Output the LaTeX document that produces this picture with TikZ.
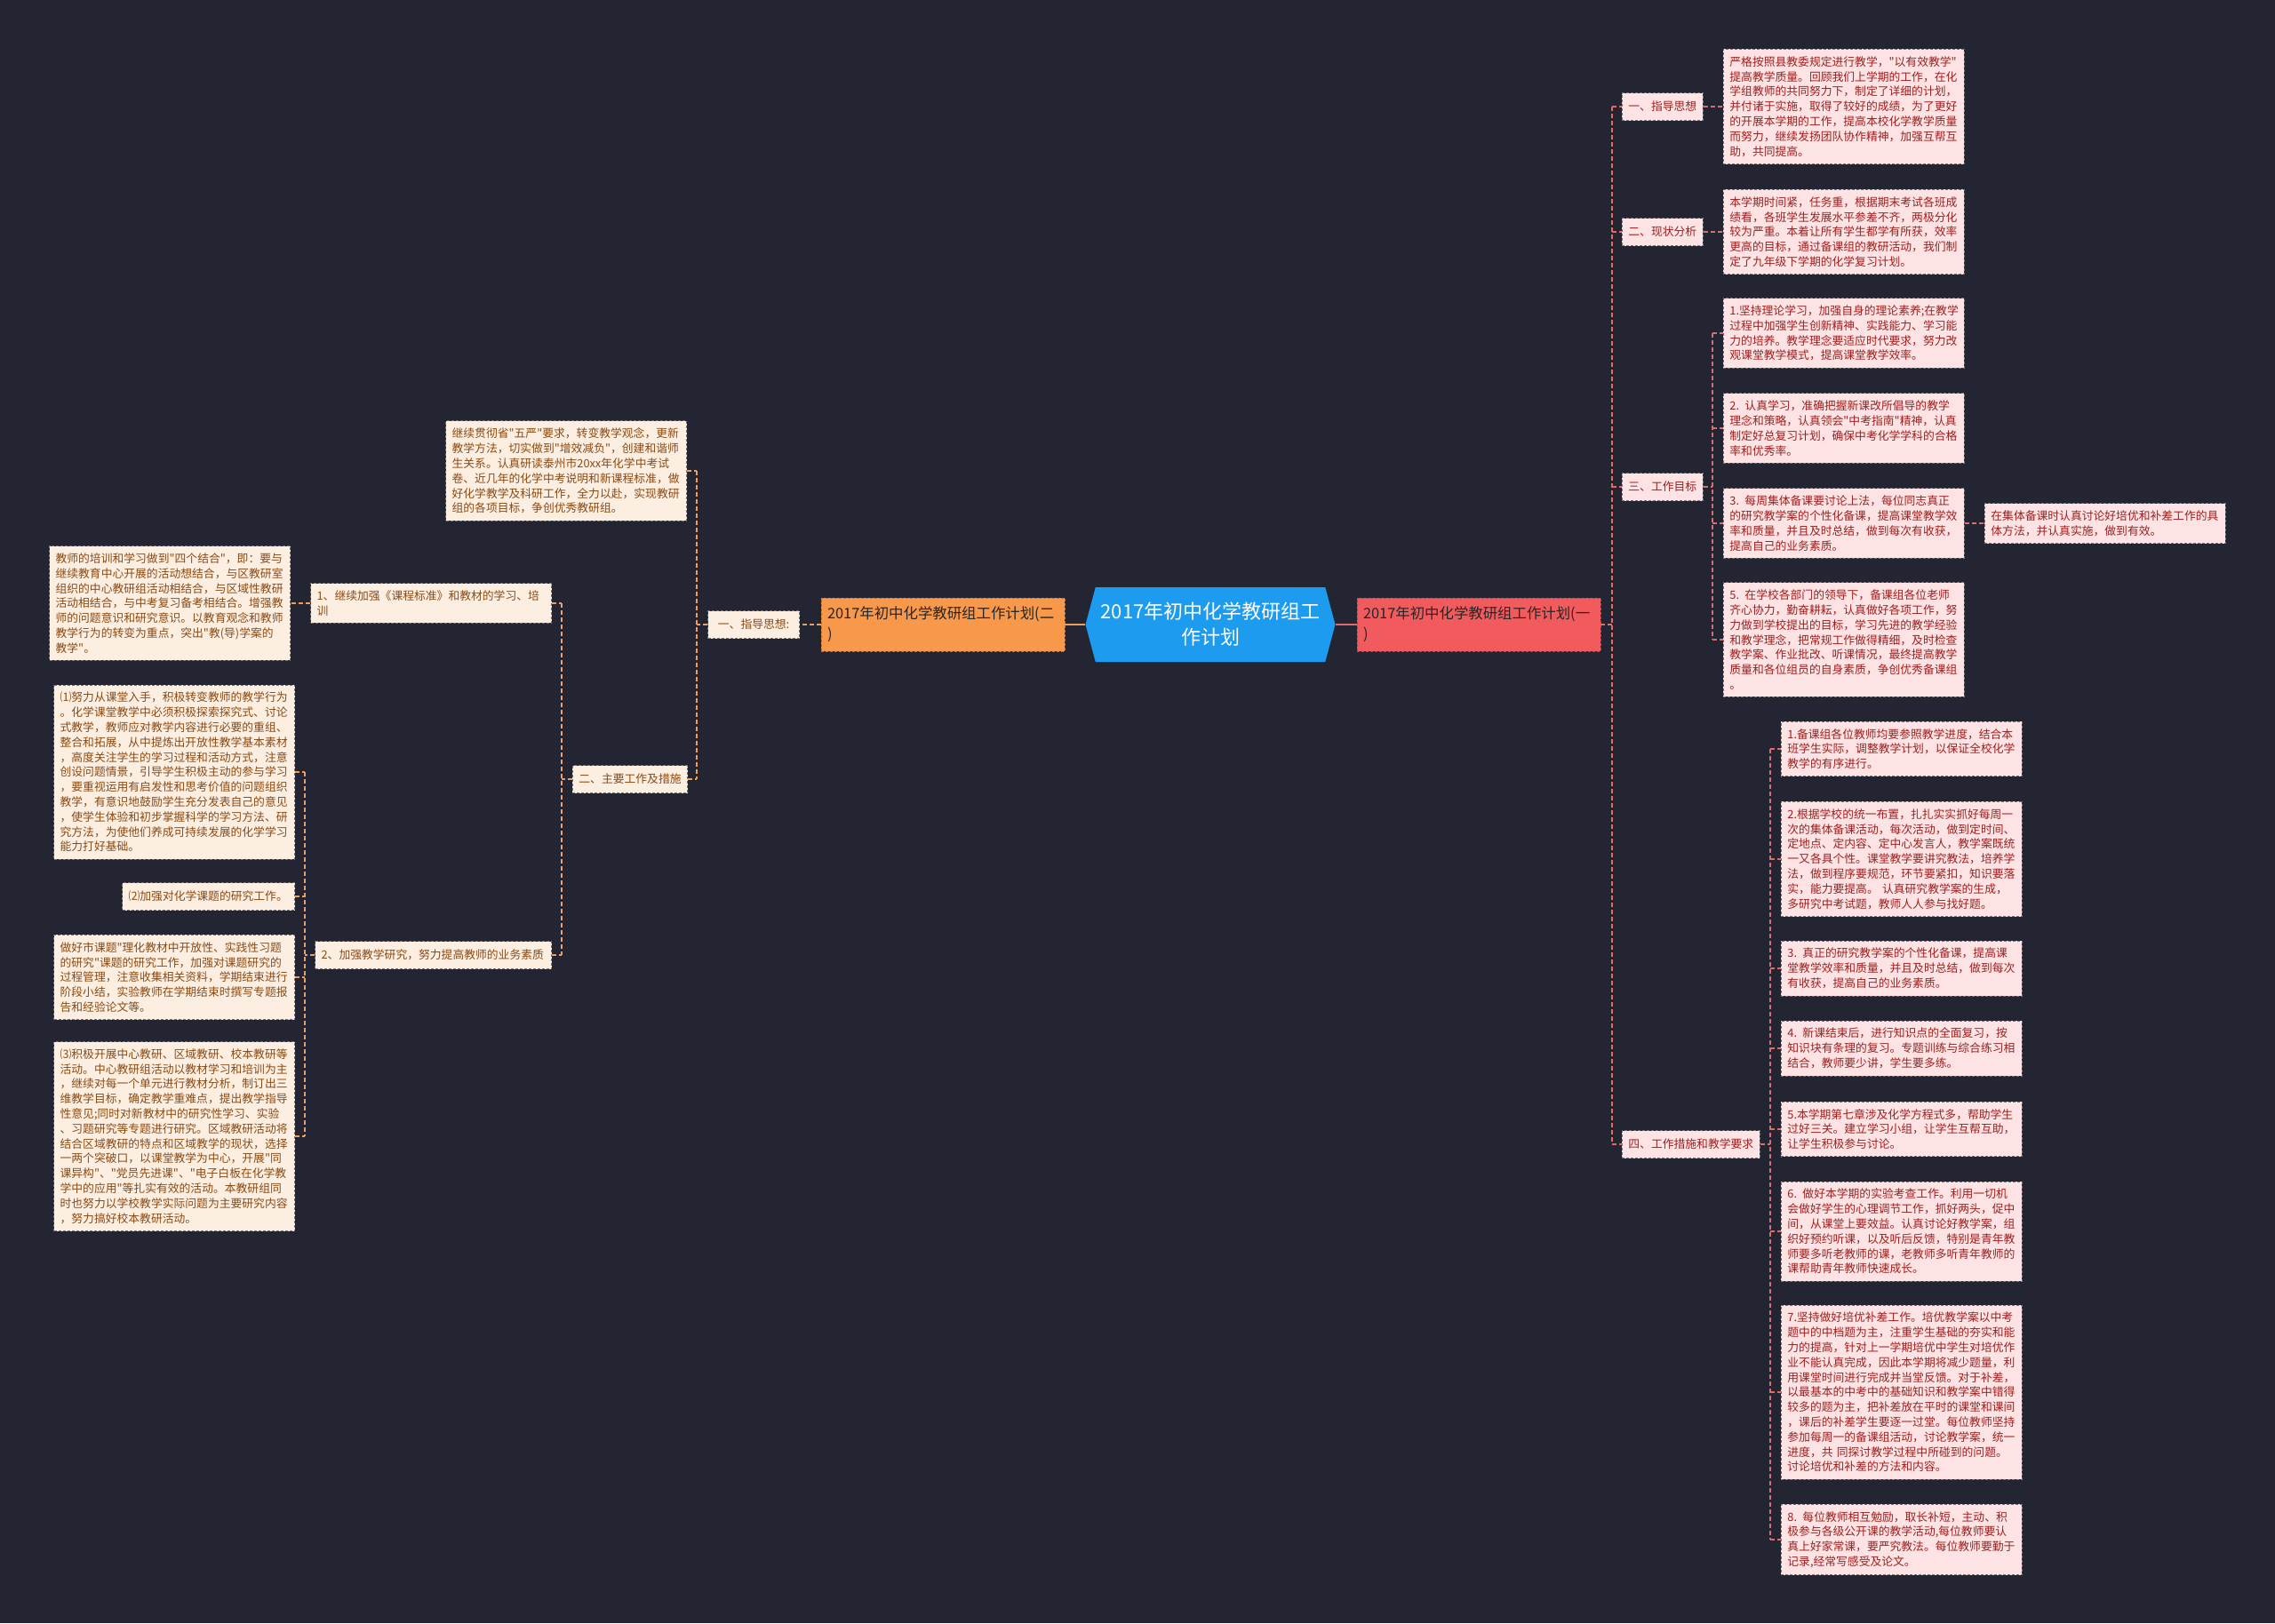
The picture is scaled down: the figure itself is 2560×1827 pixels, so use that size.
\documentclass[tikz,border=0pt]{standalone}
\usepackage{fontspec}
\setmainfont{Noto Sans CJK SC}
\newfontfamily\cjk{Noto Sans CJK SC}
\usepackage{xcolor}
\usetikzlibrary{shapes.symbols,positioning}

\definecolor{bgnavy}{HTML}{232632}
\definecolor{rootblue}{HTML}{1C9BEF}
\definecolor{mainred}{HTML}{F25B5E}
\definecolor{mainorange}{HTML}{F7984A}
\definecolor{pinkfill}{HTML}{FDE3E3}
\definecolor{pinktext}{HTML}{9E1F1F}
\definecolor{pinkline}{HTML}{E36A6A}
\definecolor{peachfill}{HTML}{FDEEE2}
\definecolor{peachtext}{HTML}{8A4A12}
\definecolor{peachline}{HTML}{EE9E5E}

\begin{document}
\begin{tikzpicture}[
    x=0.5pt, y=-0.5pt,
    root/.style={signal, signal to=west and east, signal pointer angle=150, fill=rootblue, text=white, align=center, minimum width=140.5pt, minimum height=42pt, inner sep=0pt, font=\cjk\fontsize{11}{14.5}\selectfont},
    mainbox/.style={rectangle, draw=#1!75!black, dash pattern=on 1.5pt off 1pt, fill=#1, text=black!85, text width=130pt, align=left, minimum height=30pt, inner xsep=3.5pt, font=\cjk\fontsize{8.2}{11.5}\selectfont},
    rtopic/.style={rectangle, draw=black!55, dash pattern=on 1.5pt off 1pt, fill=pinkfill, text=pinktext, minimum height=15.5pt, inner xsep=3.5pt, font=\cjk\fontsize{6.4}{8.4}\selectfont},
    rleaf/.style={rtopic, text width=#1, align=left, inner ysep=4pt},
    rleaf/.default=128.5pt,
    ltopic/.style={rtopic, fill=peachfill, text=peachtext},
    lleaf/.style={ltopic, text width=#1, align=left, inner ysep=4pt},
    lleaf/.default=128.5pt,
    rlink/.style={draw=pinkline, line width=0.6pt, dash pattern=on 2.5pt off 1.5pt},
    llink/.style={draw=peachline, line width=0.6pt, dash pattern=on 2.5pt off 1.5pt},
    trunk/.style={line width=1pt}
]

\useasboundingbox[fill=bgnavy] (0,0) rectangle (2560,1827);

% 中心主题
\node[root] (root) at (1362,703) {2017年初中化学教研组工\\作计划};

% 一级分支
\node[mainbox=mainred] (plan1) at (1664,703) {2017年初中化学教研组工作计划(一\\)};
\node[mainbox=mainorange] (plan2) at (1061,703) {2017年初中化学教研组工作计划(二\\)};

% 竖线位置
\coordinate (rspine) at (1814,0);
\coordinate (gspine) at (1927,0);
\coordinate (mspine) at (1992,0);
\coordinate (lspine) at (784,0);
\coordinate (wspine) at (632,0);
\coordinate (yspine) at (343,0);

% 右侧：计划(一)
\node[rtopic, anchor=west] (guide) at (1825,120) {一、指导思想};
\node[rtopic, anchor=west] (status) at (1825,261) {二、现状分析};
\node[rtopic, anchor=west] (goals) at (1825,548) {三、工作目标};
\node[rtopic, anchor=west] (steps) at (1825,1288) {四、工作措施和教学要求};

\node[rleaf, anchor=west] (guidetxt) at (1939,120) {严格按照县教委规定进行教学，"以有效教学"\\提高教学质量。回顾我们上学期的工作，在化\\学组教师的共同努力下，制定了详细的计划，\\并付诸于实施，取得了较好的成绩，为了更好\\的开展本学期的工作，提高本校化学教学质量\\而努力，继续发扬团队协作精神，加强互帮互\\助，共同提高。};
\node[rleaf, anchor=west] (statustxt) at (1939,261) {本学期时间紧，任务重，根据期末考试各班成\\绩看，各班学生发展水平参差不齐，两极分化\\较为严重。本着让所有学生都学有所获，效率\\更高的目标，通过备课组的教研活动，我们制\\定了九年级下学期的化学复习计划。};

\node[rleaf, anchor=west] (goal1) at (1939,375) {1.坚持理论学习，加强自身的理论素养;在教学\\过程中加强学生创新精神、实践能力、学习能\\力的培养。教学理念要适应时代要求，努力改\\观课堂教学模式，提高课堂教学效率。};
\node[rleaf, anchor=west] (goal2) at (1939,482) {2. 认真学习，准确把握新课改所倡导的教学\\理念和策略，认真领会"中考指南"精神，认真\\制定好总复习计划，确保中考化学学科的合格\\率和优秀率。};
\node[rleaf, anchor=west] (goal3) at (1939,589) {3. 每周集体备课要讨论上法，每位同志真正\\的研究教学案的个性化备课，提高课堂教学效\\率和质量，并且及时总结，做到每次有收获，\\提高自己的业务素质。};
\node[rleaf, anchor=west] (goal3a) at (2233,589) {在集体备课时认真讨论好培优和补差工作的具\\体方法，并认真实施，做到有效。};
\node[rleaf, anchor=west] (goal5) at (1939,720) {5. 在学校各部门的领导下，备课组各位老师\\齐心协力，勤奋耕耘，认真做好各项工作，努\\力做到学校提出的目标，学习先进的教学经验\\和教学理念，把常规工作做得精细，及时检查\\教学案、作业批改、听课情况，最终提高教学\\质量和各位组员的自身素质，争创优秀备课组\\。};

\node[rleaf, anchor=west] (step1) at (2004,843) {1.备课组各位教师均要参照教学进度，结合本\\班学生实际，调整教学计划，以保证全校化学\\教学的有序进行。};
\node[rleaf, anchor=west] (step2) at (2004,967) {2.根据学校的统一布置，扎扎实实抓好每周一\\次的集体备课活动，每次活动，做到定时间、\\定地点、定内容、定中心发言人，教学案既统\\一又各具个性。课堂教学要讲究教法，培养学\\法，做到程序要规范，环节要紧扣，知识要落\\实，能力要提高。 认真研究教学案的生成，\\多研究中考试题，教师人人参与找好题。};
\node[rleaf, anchor=west] (step3) at (2004,1090) {3. 真正的研究教学案的个性化备课，提高课\\堂教学效率和质量，并且及时总结，做到每次\\有收获，提高自己的业务素质。};
\node[rleaf, anchor=west] (step4) at (2004,1180) {4. 新课结束后，进行知识点的全面复习，按\\知识块有条理的复习。专题训练与综合练习相\\结合，教师要少讲，学生要多练。};
\node[rleaf, anchor=west] (step5) at (2004,1271) {5.本学期第七章涉及化学方程式多，帮助学生\\过好三关。建立学习小组，让学生互帮互助，\\让学生积极参与讨论。};
\node[rleaf, anchor=west] (step6) at (2004,1386) {6. 做好本学期的实验考查工作。利用一切机\\会做好学生的心理调节工作，抓好两头，促中\\间，从课堂上要效益。认真讨论好教学案，组\\织好预约听课，以及听后反馈，特别是青年教\\师要多听老教师的课，老教师多听青年教师的\\课帮助青年教师快速成长。};
\node[rleaf, anchor=west] (step7) at (2004,1567) {7.坚持做好培优补差工作。培优教学案以中考\\题中的中档题为主，注重学生基础的夯实和能\\力的提高，针对上一学期培优中学生对培优作\\业不能认真完成，因此本学期将减少题量，利\\用课堂时间进行完成并当堂反馈。对于补差，\\以最基本的中考中的基础知识和教学案中错得\\较多的题为主，把补差放在平时的课堂和课间\\，课后的补差学生要逐一过堂。每位教师坚持\\参加每周一的备课组活动，讨论教学案，统一\\进度，共 同探讨教学过程中所碰到的问题。\\讨论培优和补差的方法和内容。};
\node[rleaf, anchor=west] (step8) at (2004,1733) {8. 每位教师相互勉励，取长补短，主动、积\\极参与各级公开课的教学活动,每位教师要认\\真上好家常课，要严究教法。每位教师要勤于\\记录,经常写感受及论文。};

% 左侧：计划(二)
\node[ltopic, anchor=east, minimum width=51.5pt] (lguide) at (900,703) {一、指导思想:};
\node[lleaf, anchor=east] (lguidetxt) at (773,530) {继续贯彻省"五严"要求，转变教学观念，更新\\教学方法，切实做到"增效减负"，创建和谐师\\生关系。认真研读泰州市20xx年化学中考试\\卷、近几年的化学中考说明和新课程标准，做\\好化学教学及科研工作，全力以赴，实现教研\\组的各项目标，争创优秀教研组。};
\node[ltopic, anchor=east] (mainwork) at (774,877) {二、主要工作及措施};

\node[lleaf, anchor=east] (train) at (621,679) {1、继续加强《课程标准》和教材的学习、培\\训};
\node[lleaf, anchor=east] (traintxt) at (327,679) {教师的培训和学习做到"四个结合"，即：要与\\继续教育中心开展的活动想结合，与区教研室\\组织的中心教研组活动相结合，与区域性教研\\活动相结合，与中考复习备考相结合。增强教\\师的问题意识和研究意识。以教育观念和教师\\教学行为的转变为重点，突出"教(导)学案的\\教学"。};

\node[lleaf=126pt, anchor=east] (research) at (621,1075) {2、加强教学研究，努力提高教师的业务素质};
\node[lleaf, anchor=east] (item1) at (332,869) {⑴努力从课堂入手，积极转变教师的教学行为\\。化学课堂教学中必须积极探索探究式、讨论\\式教学，教师应对教学内容进行必要的重组、\\整合和拓展，从中提炼出开放性教学基本素材\\，高度关注学生的学习过程和活动方式，注意\\创设问题情景，引导学生积极主动的参与学习\\，要重视运用有启发性和思考价值的问题组织\\教学，有意识地鼓励学生充分发表自己的意见\\，使学生体验和初步掌握科学的学习方法、研\\究方法，为使他们养成可持续发展的化学学习\\能力打好基础。};
\node[lleaf=90pt, anchor=east] (item2) at (332,1009) {⑵加强对化学课题的研究工作。};
\node[lleaf, anchor=east] (item2txt) at (332,1100) {做好市课题"理化教材中开放性、实践性习题\\的研究"课题的研究工作，加强对课题研究的\\过程管理，注意收集相关资料，学期结束进行\\阶段小结，实验教师在学期结束时撰写专题报\\告和经验论文等。};
\node[lleaf, anchor=east] (item3) at (332,1279) {⑶积极开展中心教研、区域教研、校本教研等\\活动。中心教研组活动以教材学习和培训为主\\，继续对每一个单元进行教材分析，制订出三\\维教学目标，确定教学重难点，提出教学指导\\性意见;同时对新教材中的研究性学习、实验\\、习题研究等专题进行研究。区域教研活动将\\结合区域教研的特点和区域教学的现状，选择\\一两个突破口，以课堂教学为中心，开展"同\\课异构"、"党员先进课"、"电子白板在化学教\\学中的应用"等扎实有效的活动。本教研组同\\时也努力以学校教学实际问题为主要研究内容\\，努力搞好校本教研活动。};

% 连接线
\draw[trunk, pinkline] (root.east) -- (plan1.west);
\draw[trunk, peachline] (root.west) -- (plan2.east);

\draw[rlink] (plan1.east) -- (rspine |- plan1.east);
\draw[rlink] (rspine |- guide.west) -- (rspine |- steps.west);
\draw[rlink] (rspine |- guide.west) -- (guide.west);
\draw[rlink] (rspine |- status.west) -- (status.west);
\draw[rlink] (rspine |- goals.west) -- (goals.west);
\draw[rlink] (rspine |- steps.west) -- (steps.west);
\draw[rlink] (guide.east) -- (guidetxt.west);
\draw[rlink] (status.east) -- (statustxt.west);

\draw[rlink] (goals.east) -- (gspine |- goals.east);
\draw[rlink] (gspine |- goal1.west) -- (gspine |- goal5.west);
\draw[rlink] (gspine |- goal1.west) -- (goal1.west);
\draw[rlink] (gspine |- goal2.west) -- (goal2.west);
\draw[rlink] (gspine |- goal3.west) -- (goal3.west);
\draw[rlink] (gspine |- goal5.west) -- (goal5.west);
\draw[rlink] (goal3.east) -- (goal3a.west);

\draw[rlink] (steps.east) -- (mspine |- steps.east);
\draw[rlink] (mspine |- step1.west) -- (mspine |- step8.west);
\draw[rlink] (mspine |- step1.west) -- (step1.west);
\draw[rlink] (mspine |- step2.west) -- (step2.west);
\draw[rlink] (mspine |- step3.west) -- (step3.west);
\draw[rlink] (mspine |- step4.west) -- (step4.west);
\draw[rlink] (mspine |- step5.west) -- (step5.west);
\draw[rlink] (mspine |- step6.west) -- (step6.west);
\draw[rlink] (mspine |- step7.west) -- (step7.west);
\draw[rlink] (mspine |- step8.west) -- (step8.west);

\draw[llink] (plan2.west) -- (lguide.east);
\draw[llink] (lguide.west) -- (lspine |- lguide.west);
\draw[llink] (lspine |- lguidetxt.east) -- (lspine |- mainwork.east);
\draw[llink] (lguidetxt.east) -- (lspine |- lguidetxt.east);
\draw[llink] (mainwork.east) -- (lspine |- mainwork.east);

\draw[llink] (mainwork.west) -- (wspine |- mainwork.west);
\draw[llink] (wspine |- train.east) -- (wspine |- research.east);
\draw[llink] (train.east) -- (wspine |- train.east);
\draw[llink] (research.east) -- (wspine |- research.east);
\draw[llink] (train.west) -- (traintxt.east);

\draw[llink] (research.west) -- (yspine |- research.west);
\draw[llink] (yspine |- item1.east) -- (yspine |- item3.east);
\draw[llink] (item1.east) -- (yspine |- item1.east);
\draw[llink] (item2.east) -- (yspine |- item2.east);
\draw[llink] (item2txt.east) -- (yspine |- item2txt.east);
\draw[llink] (item3.east) -- (yspine |- item3.east);

\end{tikzpicture}
\end{document}
